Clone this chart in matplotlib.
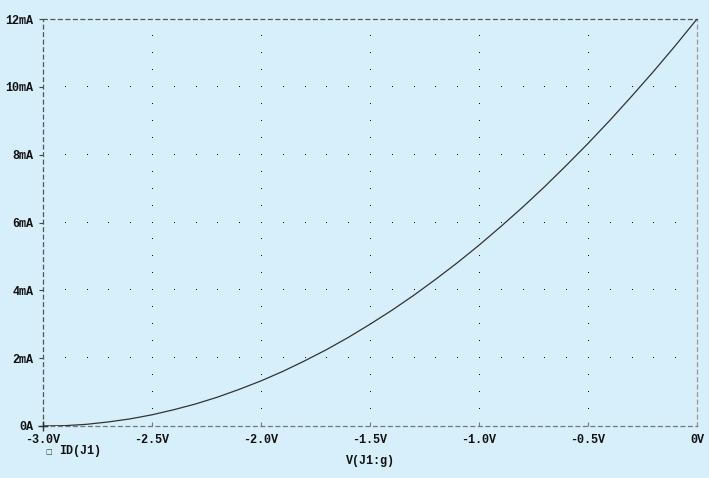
import numpy as np
import matplotlib
matplotlib.use("Agg")
import matplotlib.pyplot as plt

# Data (gate voltage in V, drain current in mA)
vgs = [-3.0, -2.9, -2.8, -2.7, -2.6, -2.5, -2.4, -2.3, -2.2, -2.1, -2.0,
       -1.9, -1.8, -1.7, -1.6, -1.5, -1.4, -1.3, -1.2, -1.1, -1.0,
       -0.9, -0.8, -0.7, -0.6, -0.5, -0.4, -0.3, -0.2, -0.1, 0.0]
id_ma = [0.0, 0.01, 0.05, 0.12, 0.21, 0.33, 0.48, 0.65, 0.85, 1.08, 1.33,
         1.61, 1.92, 2.25, 2.61, 3.0, 3.41, 3.85, 4.32, 4.81, 5.33,
         5.88, 6.45, 7.05, 7.68, 8.33, 9.01, 9.72, 10.45, 11.21, 12.0]

x_ticks = [-3.0, -2.5, -2.0, -1.5, -1.0, -0.5, 0.0]
x_tick_labels = ["-3.0V", "-2.5V", "-2.0V", "-1.5V", "-1.0V", "-0.5V", "0V"]
y_ticks = [0, 2, 4, 6, 8, 10, 12]
y_tick_labels = ["0A", "2mA", "4mA", "6mA", "8mA", "10mA", "12mA"]

BG = "#d6effa"
FONT = "Liberation Mono"
FS = 8.5

W, H = 709, 478
fig = plt.figure(figsize=(W / 100, H / 100), dpi=100, facecolor=BG)
ax = fig.add_axes([43 / W, 1 - 426 / H, (697 - 43) / W, (426 - 19) / H])
ax.set_facecolor(BG)
ax.set_xlim(-3.0, 0.0)
ax.set_ylim(0, 12)

# dotted grid
hx = np.arange(-2.9, -0.05, 0.1)
for yv in y_ticks[1:-1]:
    ax.plot(hx, np.full_like(hx, yv), linestyle="none", marker=",",
            color="#111111")
vy = np.arange(0.5, 11.9, 0.5)
for xv in x_ticks[1:-1]:
    ax.plot(np.full_like(vy, xv), vy, linestyle="none", marker=",",
            color="#111111")

# curve
ax.plot(vgs, id_ma, color="#333333", linewidth=0.9, zorder=5)

# spines dashed
for side, sp in ax.spines.items():
    sp.set_linestyle((0, (3, 3)))
    sp.set_linewidth(0.9)
    sp.set_color("#555555")
ax.spines["right"].set_color("#999999")
ax.spines["bottom"].set_color("#777777")

ax.set_xticks(x_ticks)
ax.set_xticklabels(x_tick_labels)
ax.set_yticks(y_ticks)
ax.set_yticklabels(y_tick_labels)
ax.tick_params(axis="y", direction="out", length=3, width=0.8,
               color="#444444", labelsize=FS, pad=4)
ax.tick_params(axis="x", direction="in", length=3, width=0.8,
               color="#777777", labelsize=FS, pad=6)
for lab in ax.get_xticklabels() + ax.get_yticklabels():
    lab.set_fontfamily(FONT)
    lab.set_fontweight("bold")
    lab.set_color("#111111")

# corner cross at origin
ax.plot([-3.0], [0], marker="+", markersize=7, color="#333333",
        clip_on=False, zorder=6)

# x-axis label
fig.text(370 / W, 1 - 461 / H, "V(J1:g)", ha="center", va="center",
         fontsize=FS, fontfamily=FONT, fontweight="bold", color="#111111")
# legend entry
fig.text(45 / W, 1 - 452 / H, "\u25a1", ha="left", va="center",
         fontsize=5, fontfamily="DejaVu Sans", color="#333333")
fig.text(59 / W, 1 - 451 / H, "ID(J1)", ha="left", va="center",
         fontsize=FS, fontfamily=FONT, fontweight="bold", color="#111111")

fig.savefig("out.png", dpi=100, facecolor=BG)
